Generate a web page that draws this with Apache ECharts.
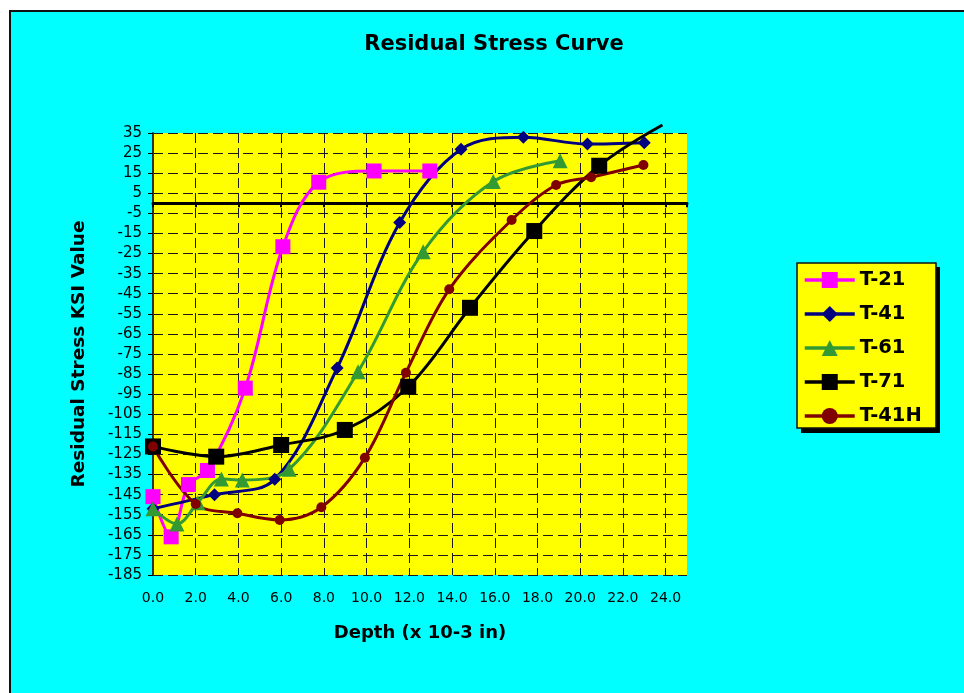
<!DOCTYPE html>
<html>
<head>
<meta charset="utf-8">
<script src="https://cdn.jsdelivr.net/npm/echarts@6/dist/echarts.min.js"></script>
<style>
  html, body { margin: 0; padding: 0; background: #ffffff; }
  #frame { position: absolute; left: 9px; top: 10px; right: 0; bottom: 0;
           background: #00FFFF; border-top: 2px solid #111; border-left: 2px solid #111; }
  #chart { position: absolute; left: 0; top: 0; width: 964px; height: 693px; }
</style>
</head>
<body>
<div id="frame"></div>
<div id="chart"></div>
<script>
// Depth readings (x 10-3 in) and residual stress (KSI) for each specimen
const seriesNames = ['T-21', 'T-41', 'T-61', 'T-71', 'T-41H'];

const t21Depth = [0.0, 0.85, 1.66, 2.55, 4.32, 6.08, 7.76, 10.35, 12.96];
const t21Stress = [-146, -166, -140, -133, -92, -21.6, 10.5, 16.1, 16.1];

const t41Depth = [0.0, 2.88, 5.7, 8.62, 11.55, 14.42, 17.34, 20.34, 23.0];
const t41Stress = [-152, -145, -137.4, -82, -9.6, 26.9, 32.9, 29.5, 30.2];

const t61Depth = [0.0, 1.12, 2.1, 3.2, 4.18, 6.37, 9.6, 12.65, 15.93, 19.06];
const t61Stress = [-152, -159.6, -149, -137.2, -137.7, -132.4, -83.8, -24.1, 10.8, 21.2];

const t71Depth = [0.0, 2.96, 6.0, 8.98, 11.95, 14.84, 17.85, 20.89, 23.85];
const t71Stress = [-121, -126.1, -120.3, -112.8, -91.3, -52, -13.8, 18.7, 39];

const t41hDepth = [0.0, 2.0, 3.95, 5.93, 7.88, 9.92, 11.84, 13.87, 16.79, 18.87, 20.51, 22.96];
const t41hStress = [-121, -149.7, -154.3, -157.6, -151.3, -126.6, -84.3, -42.8, -8.3, 9.1, 13, 19.1];

// Axis ranges
const depthMin = 0, depthMax = 25, depthStep = 2;
const stressMin = -185, stressMax = 35, stressStep = 10;

const pairs = (xs, ys) => xs.map((x, i) => [x, ys[i]]);

const chart = echarts.init(document.getElementById('chart'), null, { renderer: 'canvas' });

const FONT = '"DejaVu Sans", Arial, sans-serif';
const gridDash = { color: '#1a1a1a', width: 1, type: [10, 5] };
const lineSeries = (name, data, color, symbol, size, extra) => Object.assign({
  name, type: 'line', data, smooth: 0.35,
  symbol, symbolSize: size,
  lineStyle: { color, width: 3 },
  itemStyle: { color },
  emphasis: { disabled: true },
  animation: false
}, extra || {});

// Last T-71 reading runs just past the top of the plot; its line is kept, marker hidden
const t71Data = pairs(t71Depth, t71Stress).map((p, i, a) =>
  i === a.length - 1 ? { value: p, symbol: 'none' } : p);

chart.setOption({
  backgroundColor: 'transparent',
  animation: false,
  textStyle: { fontFamily: FONT },
  graphic: [
    { type: 'text', x: 494, y: 45, z: 10,
      style: { text: 'Residual Stress Curve', align: 'center', verticalAlign: 'middle',
               font: 'bold 21px ' + FONT, fill: '#000' } },
    // legend box with its drop shadow
    { type: 'rect', z: 0, shape: { x: 801, y: 267, width: 139, height: 166 },
      style: { fill: '#000' } },
    { type: 'rect', z: 1, shape: { x: 797, y: 263, width: 139, height: 165 },
      style: { fill: '#FFFF00', stroke: '#111', lineWidth: 1.5 } }
  ],
  grid: { left: 153, right: 277, top: 133, bottom: 118, show: true,
          backgroundColor: '#FFFF00', borderWidth: 0 },
  legend: {
    orient: 'vertical', left: 797, top: 263, z: 5,
    data: seriesNames,
    padding: [7, 11, 7, 6],
    itemWidth: 50, itemHeight: 20, itemGap: 14,
    lineStyle: { width: 3.5 },
    textStyle: { fontSize: 19.5, fontWeight: 'bold', color: '#000', lineHeight: 20,
                 fontFamily: FONT }
  },
  xAxis: [{
    type: 'value', min: depthMin, max: depthMax, interval: depthStep,
    position: 'bottom',
    axisLine: { show: false, onZero: false },
    axisTick: { show: false },
    axisLabel: { color: '#000', fontSize: 14, margin: 16, showMaxLabel: false,
                 fontFamily: FONT, formatter: v => v.toFixed(1) },
    splitLine: { show: true, lineStyle: gridDash, showMinLine: false, showMaxLine: false },
    name: 'Depth (x 10-3 in)', nameLocation: 'middle', nameGap: 49,
    nameTextStyle: { fontSize: 18, fontWeight: 'bold', color: '#000', fontFamily: FONT }
  }, {
    // zero line with its tick marks
    type: 'value', min: depthMin, max: depthMax, interval: depthStep,
    position: 'bottom',
    axisLine: { show: true, onZero: true, onZeroAxisIndex: 0,
                lineStyle: { color: '#000', width: 3 } },
    axisTick: { show: true, length: 4, inside: false, lineStyle: { color: '#000', width: 2 } },
    axisLabel: { show: false },
    splitLine: { show: false }
  }],
  yAxis: {
    type: 'value', min: stressMin, max: stressMax, interval: stressStep,
    axisLine: { show: true, onZero: false, lineStyle: { color: '#333', width: 2 } },
    axisTick: { show: true, length: 5, lineStyle: { color: '#000' } },
    axisLabel: { color: '#000', fontSize: 15, margin: 11, fontFamily: FONT },
    splitLine: { show: true, lineStyle: gridDash },
    name: 'Residual Stress KSI Value', nameLocation: 'middle', nameGap: 64,
    nameTextStyle: { fontSize: 18.5, fontWeight: 'bold', color: '#000', fontFamily: FONT }
  },
  series: [
    lineSeries('T-21', pairs(t21Depth, t21Stress), '#FF00FF', 'rect', 15),
    lineSeries('T-41', pairs(t41Depth, t41Stress), '#000080', 'diamond', 13),
    lineSeries('T-61', pairs(t61Depth, t61Stress), '#339933', 'triangle', 15),
    lineSeries('T-71', t71Data, '#000000', 'rect', 16, { clip: false }),
    lineSeries('T-41H', pairs(t41hDepth, t41hStress), '#800000', 'circle', 10)
  ]
});
</script>
</body>
</html>
